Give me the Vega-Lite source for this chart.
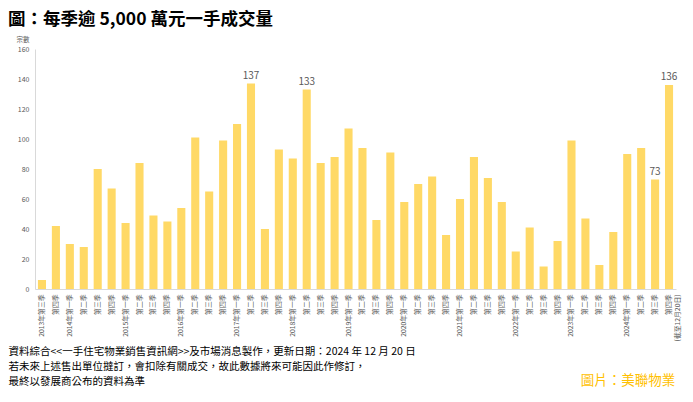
{
  "$schema": "https://vega.github.io/schema/vega-lite/v6.json",
  "padding": {"left": 8, "top": 10, "right": 5, "bottom": 5},
  "background": "white",
  "config": {"font": "Noto Sans CJK TC", "view": {"stroke": null}, "concat": {"spacing": 0}},
  "title": {"text": "圖：每季逾 5,000 萬元一手成交量", "anchor": "start", "fontSize": 17.5, "fontWeight": "bold", "color": "#000000", "offset": 8, "font": "Noto Sans CJK TC"},
  "datasets": {
    "trades": [
      {"period": "2013年第三季", "value": 6},
      {"period": "2013年第四季", "value": 42},
      {"period": "2014年第一季", "value": 30},
      {"period": "2014年第二季", "value": 28},
      {"period": "2014年第三季", "value": 80},
      {"period": "2014年第四季", "value": 67},
      {"period": "2015年第一季", "value": 44},
      {"period": "2015年第二季", "value": 84},
      {"period": "2015年第三季", "value": 49},
      {"period": "2015年第四季", "value": 45},
      {"period": "2016年第一季", "value": 54},
      {"period": "2016年第二季", "value": 101},
      {"period": "2016年第三季", "value": 65},
      {"period": "2016年第四季", "value": 99},
      {"period": "2017年第一季", "value": 110},
      {"period": "2017年第二季", "value": 137},
      {"period": "2017年第三季", "value": 40},
      {"period": "2017年第四季", "value": 93},
      {"period": "2018年第一季", "value": 87},
      {"period": "2018年第二季", "value": 133},
      {"period": "2018年第三季", "value": 84},
      {"period": "2018年第四季", "value": 88},
      {"period": "2019年第一季", "value": 107},
      {"period": "2019年第二季", "value": 94},
      {"period": "2019年第三季", "value": 46},
      {"period": "2019年第四季", "value": 91},
      {"period": "2020年第一季", "value": 58},
      {"period": "2020年第二季", "value": 70},
      {"period": "2020年第三季", "value": 75},
      {"period": "2020年第四季", "value": 36},
      {"period": "2021年第一季", "value": 60},
      {"period": "2021年第二季", "value": 88},
      {"period": "2021年第三季", "value": 74},
      {"period": "2021年第四季", "value": 58},
      {"period": "2022年第一季", "value": 25},
      {"period": "2022年第二季", "value": 41},
      {"period": "2022年第三季", "value": 15},
      {"period": "2022年第四季", "value": 32},
      {"period": "2023年第一季", "value": 99},
      {"period": "2023年第二季", "value": 47},
      {"period": "2023年第三季", "value": 16},
      {"period": "2023年第四季", "value": 38},
      {"period": "2024年第一季", "value": 90},
      {"period": "2024年第二季", "value": 94},
      {"period": "2024年第三季", "value": 73},
      {"period": "2024年第四季(截至12月20日)", "value": 136}
    ]
  },
  "vconcat": [
    {
      "width": 641,
      "height": 240,
      "data": {"name": "trades"},
      "title": {"text": "圖片：美聯物業", "orient": "bottom", "anchor": "end", "color": "#FFC000", "fontSize": 13.5, "fontWeight": "normal", "offset": -13, "dx": -6, "font": "Noto Sans CJK TC"},
      "encoding": {
        "x": {
          "field": "period", "type": "nominal", "sort": null,
          "scale": {"paddingInner": 0.42, "paddingOuter": 0.21},
          "axis": {
            "title": ["資料綜合<<一手住宅物業銷售資訊網>>及市場消息製作，更新日期：2024 年 12 月 20 日", "若未來上述售出單位撻訂，會扣除有關成交，故此數據將來可能因此作修訂，", "最終以發展商公布的資料為準"],
            "titleFontSize": 10.5, "titleFontWeight": "normal", "titleColor": "#000000",
            "titleAlign": "left", "titleAnchor": "start", "titleX": -27, "titleY": 57,
            "titleBaseline": "top", "titleLineHeight": 15,
            "labelAngle": -90, "labelFontSize": 6.8, "labelColor": "#595959", "labelPadding": 5,
            "labelOverlap": false, "labelBound": false,
            "labelExpr": "datum.label == '2024年第四季(截至12月20日)' ? ['第四季', '(截至12月20日)'] : ((substring(datum.label, 5, 8) == '第一季' || datum.label == '2013年第三季') ? datum.label : substring(datum.label, 5))",
            "ticks": false, "domainColor": "#D9D9D9"
          }
        },
        "y": {
          "field": "value", "type": "quantitative",
          "scale": {"domain": [0, 160], "nice": false},
          "axis": {
            "title": "宗數", "titleAngle": 0, "titleX": -6, "titleY": -10, "titleAlign": "right",
            "titleBaseline": "middle", "titleFontSize": 6.5, "titleFontWeight": "normal", "titleColor": "#595959",
            "values": [0, 20, 40, 60, 80, 100, 120, 140, 160],
            "grid": false, "ticks": false, "labelFontSize": 7, "labelColor": "#595959",
            "labelPadding": 6, "domainColor": "#D9D9D9"
          }
        }
      },
      "layer": [
        {"mark": {"type": "bar", "color": "#FFD966"}},
        {
          "transform": [{"filter": {"field": "period", "oneOf": ["2017年第二季", "2018年第二季", "2024年第三季", "2024年第四季(截至12月20日)"]}}],
          "mark": {"type": "text", "dy": -8, "fontSize": 10, "color": "#595959"},
          "encoding": {"text": {"field": "value", "type": "quantitative"}}
        }
      ]
    }
  ]
}
